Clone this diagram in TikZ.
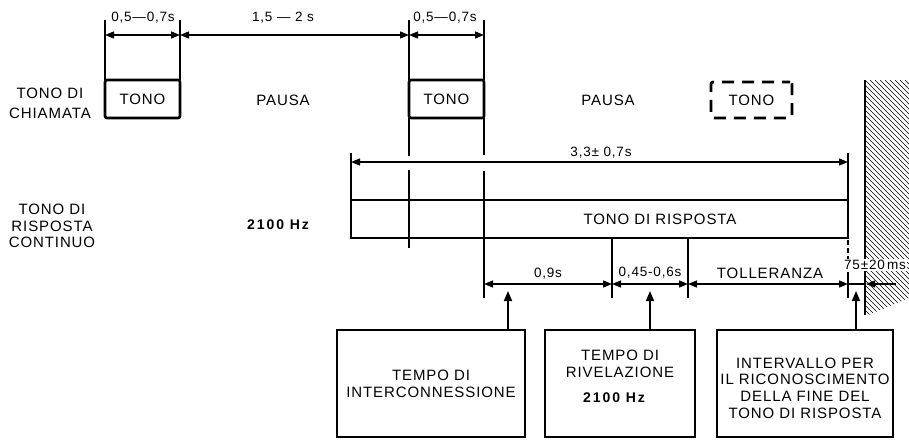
\documentclass[tikz,border=0pt]{standalone}
\usepackage{fontspec}
\setmainfont{Liberation Sans}[LetterSpace=6]
\newfontfamily\hzfont{Liberation Sans}[LetterSpace=14]
\usetikzlibrary{arrows.meta}
\begin{document}
\begin{tikzpicture}[x=1pt,y=-1pt,
  txt/.style={inner sep=0pt, text depth=0pt, font=\fontsize{15}{17}\selectfont},
  small/.style={inner sep=0pt, text depth=0pt, font=\fontsize{13.5}{16}\selectfont},
  boldtxt/.style={inner sep=0pt, text depth=0pt, font=\hzfont\fontsize{14}{16}\selectfont\bfseries},
  multi/.style={inner sep=0pt, align=center},
  tonebox/.style={draw, line width=2.6pt, rounded corners=2pt, minimum width=75pt, minimum height=38pt, inner sep=0pt, font=\fontsize{15}{17}\selectfont},
  infobox/.style={draw, line width=1.8pt, minimum height=107pt, inner sep=0pt},
  tick/.style={line width=1.1pt},
  dimline/.style={line width=1.3pt, {Triangle[length=9pt,width=7pt]}-{Triangle[length=9pt,width=7pt]}},
  onetip/.style={line width=1.3pt, -{Triangle[length=9pt,width=7pt]}},
  uparrow/.style={line width=1.6pt, -{Triangle[length=10pt,width=8pt]}},
]
\useasboundingbox (0,0) rectangle (909,440);

% ---------- top row: calling tone ----------
\node[tonebox] (tono1) at (142.5,99) {TONO};
\node[tonebox] (tono2) at (446.5,99) {TONO};
\node[tonebox, dash pattern=on 12pt off 8pt, dash phase=4pt, minimum width=81pt, minimum height=36pt] (tono3) at (751.5,100) {TONO};

\draw[tick] (105,20) -- (105,80);
\draw[tick] (180,20) -- (180,80);
\draw[tick] (409,20) -- (409,80);
\draw[tick] (484,20) -- (484,80);
\coordinate (a1) at (105,35);
\coordinate (a2) at (180,35);
\coordinate (a3) at (409,35);
\coordinate (a4) at (484,35);
\draw[dimline] (a1) -- (a2);
\draw[dimline] (a2) -- (a3);
\draw[dimline] (a3) -- (a4);
\node[small] (l1) at (143,17) {0,5—0,7s};
\node[small] (l2) at (283,17) {1,5 — 2 s};
\node[small] (l3) at (445,17) {0,5—0,7s};

\node[txt] (p1) at (283,100) {PAUSA};
\node[txt] (p2) at (608,100) {PAUSA};
\node[multi, font=\fontsize{15}{20}\selectfont] (lc) at (50,103) {TONO DI\\CHIAMATA};

% ---------- hatched wall ----------
\begin{scope}
  \clip (866,80) -- (909,80) -- (909,298) -- (866,316) -- cycle;
  \foreach \k in {0,...,58} \draw[line width=0.6pt] (620+5*\k,80) -- ++(250,250);
\end{scope}
\draw[line width=2pt] (865,80) -- (865,315);

% ---------- answer tone ----------
\node[multi, font=\fontsize{15}{16.5}\selectfont] (lr) at (52,226) {TONO DI\\RISPOSTA\\CONTINUO};
\node[boldtxt] (hz) at (278,225) {2100 Hz};

\node[draw, line width=2.6pt, minimum width=497pt, minimum height=38pt, inner sep=0pt] (risp) at (599.5,219) {};
\node[txt] (rt) at (660,219) {TONO DI RISPOSTA};

% vertical guide lines
\draw[tick] (409,118) -- (409,156);
\draw[tick] (409,170) -- (409,248);
\draw[tick] (484,118) -- (484,155);
\draw[tick] (484,171) -- (484,298);
\draw[tick] (351,153) -- (351,200);
\draw[tick] (848,153) -- (848,200);
\draw[tick, dash pattern=on 5pt off 3pt] (848,240) -- (848,276);
\draw[tick] (848,276) -- (848,298);
\draw[tick] (612,238) -- (612,298);
\draw[tick] (688,238) -- (688,298);

\coordinate (c1) at (351,162);
\coordinate (c2) at (848,162);
\draw[dimline] (c1) -- (c2);
\node[small] (d33) at (601,152) {3,3± 0,7s};

% ---------- lower dimension row ----------
\node[small, fill=white, inner sep=1.5pt] (d75) at (875,265) {75±20\,ms};
\coordinate (b1) at (484,284);
\coordinate (b2) at (612,284);
\coordinate (b3) at (688,284);
\coordinate (b4) at (848,284);
\coordinate (b5) at (866,284);
\coordinate (b6) at (896,284);
\draw[dimline] (b1) -- (b2);
\draw[dimline] (b2) -- (b3);
\draw[dimline] (b3) -- (b4);
\draw[line width=1.3pt] (b4) -- (b5);
\draw[onetip] (b6) -- (b5);
\node[small] (d09) at (548,273) {0,9s};
\node[small] (d045) at (650,272) {0,45-0,6s};
\node[txt] (tol) at (770,273) {TOLLERANZA};

% ---------- bottom boxes ----------
\node[infobox, minimum width=188pt] (box1) at (431,383.5) {};
\node[infobox, minimum width=150pt] (box2) at (620,383.5) {};
\node[infobox, minimum width=176pt] (box3) at (805,383.5) {};

\node[multi, font=\fontsize{15}{17}\selectfont] (t1) at (431,383.5) {TEMPO DI\\INTERCONNESSIONE};
\node[multi, font=\fontsize{15}{17}\selectfont] (t2) at (620,363.5) {TEMPO DI\\RIVELAZIONE};
\node[boldtxt] (t2b) at (614,398) {2100 Hz};
\node[multi, font=\fontsize{15}{16.7}\selectfont] (t3) at (805,388) {INTERVALLO PER\\IL RICONOSCIMENTO\\DELLA FINE DEL\\TONO DI RISPOSTA};

\coordinate (u1) at (508,291);
\coordinate (u2) at (650,291);
\coordinate (u3) at (856,291);
\draw[uparrow] (box1.north -| u1) -- (u1);
\draw[uparrow] (box2.north -| u2) -- (u2);
\draw[uparrow] (box3.north -| u3) -- (u3);
\end{tikzpicture}
\end{document}
